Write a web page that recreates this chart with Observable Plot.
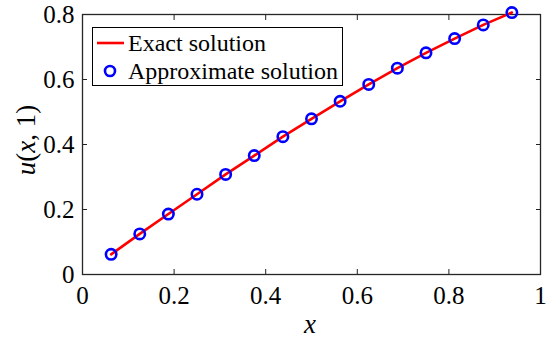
<!DOCTYPE html>
<html><head><meta charset="utf-8">
<script src="https://cdn.jsdelivr.net/npm/d3@7"></script>
<script src="https://cdn.jsdelivr.net/npm/@observablehq/plot@0.6"></script>
<style>
body{margin:0;background:#fff;}
#wrap{position:relative;width:550px;height:344px;font-family:"Liberation Serif","Times New Roman",serif;}
#legend{position:absolute;left:92px;top:27px;width:251px;height:59px;border:1px solid #000;background:#fff;font-size:24px;box-sizing:border-box;}
.row{position:absolute;left:0;height:28px;display:flex;align-items:center;white-space:nowrap;}
.lab{position:absolute;font-size:27px;font-family:"Liberation Serif","Times New Roman",serif;}
</style></head>
<body><div id="wrap"></div>
<script>
const xVals = [0.0625,0.125,0.1875,0.25,0.3125,0.375,0.4375,0.5,0.5625,0.625,0.6875,0.75,0.8125,0.875,0.9375];
const exactVals = [0.062,0.125,0.186,0.247,0.308,0.366,0.424,0.479,0.533,0.585,0.635,0.682,0.726,0.768,0.806];
const approxVals = [0.062,0.125,0.186,0.247,0.308,0.366,0.424,0.479,0.533,0.585,0.635,0.682,0.726,0.768,0.806];
const xTicks = [0,0.2,0.4,0.6,0.8,1];
const yTicks = [0,0.2,0.4,0.6,0.8];
const xTickLabels = ["0","0.2","0.4","0.6","0.8","1"];
const yTickLabels = ["0","0.2","0.4","0.6","0.8"];

const exact = xVals.map((x,i)=>({x, u: exactVals[i]}));
const approx = xVals.map((x,i)=>({x, u: approxVals[i]}));
const blank = () => "";
const serif = '"Liberation Serif","Times New Roman",serif';

const chart = Plot.plot({
  width: 550, height: 344,
  marginLeft: 82, marginRight: 10, marginTop: 14, marginBottom: 70,
  x: {domain:[0,1]}, y: {domain:[0,0.8]},
  style: {fontFamily: serif, fontSize: "25px", color: "#000", background: "#fff", overflow: "visible"},
  marks: [
    Plot.axisX(xTicks, {anchor:"bottom", tickSize:0, tickPadding:12, tickFormat:(d,i)=>xTickLabels[i], fontSize:25, fontFamily:serif, label:null}),
    Plot.axisX(xTicks, {anchor:"bottom", tickSize:-5, tickFormat:blank, stroke:"#222", label:null}),
    Plot.axisX(xTicks, {anchor:"top", tickSize:-5, tickFormat:blank, stroke:"#222", label:null}),
    Plot.axisY(yTicks, {anchor:"left", tickSize:0, tickPadding:8, tickFormat:(d,i)=>yTickLabels[i], fontSize:25, fontFamily:serif, label:null}),
    Plot.axisY(yTicks, {anchor:"left", tickSize:-5, tickFormat:blank, stroke:"#222", label:null}),
    Plot.axisY(yTicks, {anchor:"right", tickSize:-5, tickFormat:blank, stroke:"#222", label:null}),
    Plot.frame({stroke:"#262626", strokeWidth:1.3}),
    Plot.line(exact, {x:"x", y:"u", stroke:"#ff0000", strokeWidth:2.6, clip:false}),
    Plot.dot(approx, {x:"x", y:"u", r:5.2, stroke:"#0000ff", strokeWidth:2.6, fill:"none"})
  ]
});
chart.style.position="absolute"; chart.style.left="0"; chart.style.top="0";
const wrap = document.getElementById("wrap");
wrap.appendChild(chart);

const legend = document.createElement("div");
legend.id="legend";
legend.innerHTML = `
<div class="row" style="top:1px"><svg width="32" height="20" style="margin-left:3px"><line x1="1" y1="10" x2="28" y2="10" stroke="#ff0000" stroke-width="2.6"/></svg><span>Exact solution</span></div>
<div class="row" style="top:29px"><svg width="32" height="20" style="margin-left:3px"><circle cx="14" cy="10" r="5" stroke="#0000ff" stroke-width="2.6" fill="none"/></svg><span>Approximate solution</span></div>`;
wrap.appendChild(legend);

const xl = document.createElement("div");
xl.className="lab"; xl.innerHTML="<i>x</i>";
xl.style.left="304px"; xl.style.top="309px";
wrap.appendChild(xl);

const yl = document.createElement("div");
yl.className="lab"; yl.innerHTML="<i>u</i>(<i>x</i>, 1)";
yl.style.left="26px"; yl.style.top="140px"; yl.style.whiteSpace="nowrap";
yl.style.transform="translate(-50%,-50%) rotate(-90deg)";
wrap.appendChild(yl);
</script></body></html>
